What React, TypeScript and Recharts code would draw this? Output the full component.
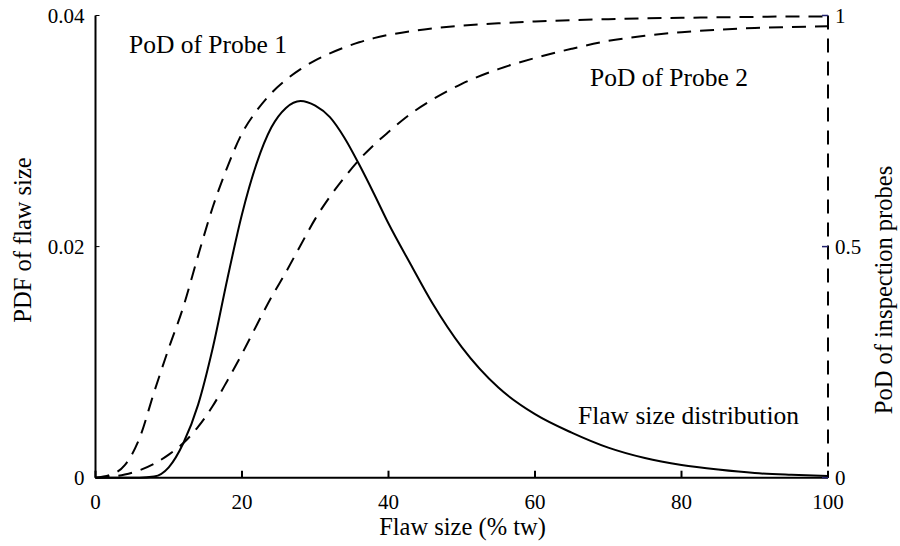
import { LineChart, Line, XAxis, YAxis } from "recharts";

// flaw size, % through-wall
const flawSize = [0, 2, 4, 6, 8, 10, 12, 14, 16, 18, 20, 22, 24, 26, 28, 30, 32, 34, 36, 38, 40, 43, 46, 50, 55, 60, 65, 70, 75, 80, 85, 90, 95, 100];

// PDF of flaw size (left axis)
const pdf = [0, 0, 0, 0, 0.0001, 0.0009, 0.003, 0.0063, 0.0112, 0.0172, 0.0228, 0.0272, 0.0303, 0.032, 0.0326, 0.0322, 0.0312, 0.0294, 0.0271, 0.0246, 0.022, 0.0185, 0.0151, 0.0113, 0.0078, 0.0055, 0.0039, 0.0026, 0.0017, 0.0011, 0.0007, 0.0004, 0.00025, 0.00015];

// probability of detection (right axis)
const pod1 = [0, 0.006, 0.027, 0.085, 0.185, 0.28, 0.37, 0.48, 0.585, 0.672, 0.745, 0.794, 0.832, 0.861, 0.884, 0.903, 0.918, 0.931, 0.942, 0.951, 0.958, 0.966, 0.972, 0.978, 0.983, 0.987, 0.99, 0.992, 0.994, 0.995, 0.996, 0.997, 0.998, 0.998];
const pod2 = [0, 0.002, 0.007, 0.016, 0.03, 0.05, 0.075, 0.11, 0.155, 0.21, 0.268, 0.33, 0.39, 0.445, 0.503, 0.56, 0.608, 0.65, 0.688, 0.72, 0.748, 0.787, 0.818, 0.852, 0.884, 0.908, 0.928, 0.945, 0.956, 0.964, 0.969, 0.973, 0.975, 0.977];

const xTicks = [0, 20, 40, 60, 80, 100];
const pdfTicks = [0, 0.02, 0.04];
const podTicks = [0, 0.5, 1];

const data = flawSize.map((x, i) => ({ x, pdf: pdf[i], pod1: pod1[i], pod2: pod2[i] }));

const FONT = '"Liberation Serif", "DejaVu Serif", serif';
const TICK = { fontSize: 21, fill: "#000", fontFamily: FONT };
const AXIS = { stroke: "#000", strokeWidth: 2 };
const DASH = "14 9";

if (typeof document !== "undefined") document.body.style.margin = "0";

const note = (left: number, top: number): React.CSSProperties => ({
  position: "absolute",
  left,
  top,
  fontFamily: FONT,
  fontSize: 25.5,
  lineHeight: 1,
  whiteSpace: "nowrap",
  color: "#000",
});

const vTitle = (left: number, top: number): React.CSSProperties => ({
  ...note(left, top),
  fontSize: 24.5,
  transform: "translate(-50%, -50%) rotate(-90deg)",
});

export default function App() {
  return (
    <div style={{ position: "relative", width: 900, height: 546, background: "#fff" }}>
      <LineChart
        width={900}
        height={546}
        data={data}
        margin={{ top: 15.5, right: 22, bottom: 28.3, left: 35.5 }}
      >
        <XAxis
          dataKey="x"
          type="number"
          domain={[0, 100]}
          ticks={xTicks}
          height={40}
          axisLine={AXIS}
          tickLine={AXIS}
          tickSize={-7}
          tickMargin={23}
          tick={TICK}
        />
        <XAxis
          xAxisId="top"
          orientation="top"
          dataKey="x"
          type="number"
          domain={[0, 100]}
          ticks={xTicks}
          height={0}
          axisLine={AXIS}
          tickLine={{ stroke: "#000", strokeWidth: 1 }}
          tickSize={-6}
          tickFormatter={() => ""}
        />
        <YAxis
          yAxisId="left"
          domain={[0, 0.04]}
          ticks={pdfTicks}
          width={60}
          axisLine={AXIS}
          tickLine={{ stroke: "#000", strokeWidth: 1 }}
          tickSize={-4}
          tickMargin={15}
          tick={TICK}
          tickFormatter={(v: number) => (v === 0 ? "0" : String(v))}
        />
        <YAxis
          yAxisId="right"
          orientation="right"
          domain={[0, 1]}
          ticks={podTicks}
          width={50}
          axisLine={{ stroke: "#000", strokeWidth: 2, strokeDasharray: DASH }}
          tickLine={{ stroke: "#22226e", strokeWidth: 1.5 }}
          tickSize={-6}
          tickMargin={13}
          tick={TICK}
        />
        <Line
          yAxisId="left"
          type="monotone"
          dataKey="pdf"
          stroke="#000"
          strokeWidth={2}
          dot={false}
          isAnimationActive={false}
        />
        <Line
          yAxisId="right"
          type="monotone"
          dataKey="pod1"
          stroke="#000"
          strokeWidth={2}
          strokeDasharray={DASH}
          dot={false}
          isAnimationActive={false}
        />
        <Line
          yAxisId="right"
          type="monotone"
          dataKey="pod2"
          stroke="#000"
          strokeWidth={2}
          strokeDasharray={DASH}
          dot={false}
          isAnimationActive={false}
        />
      </LineChart>

      <div style={note(129, 32)}>PoD of Probe 1</div>
      <div style={note(590, 65)}>PoD of Probe 2</div>
      <div style={note(578, 403)}>Flaw size distribution</div>

      <div style={{ ...note(0, 515), fontSize: 24.5, width: 925, textAlign: "center" }}>Flaw size (% tw)</div>
      <div style={vTitle(23, 240)}>PDF of flaw size</div>
      <div style={vTitle(884, 290)}>PoD of inspection probes</div>
    </div>
  );
}
